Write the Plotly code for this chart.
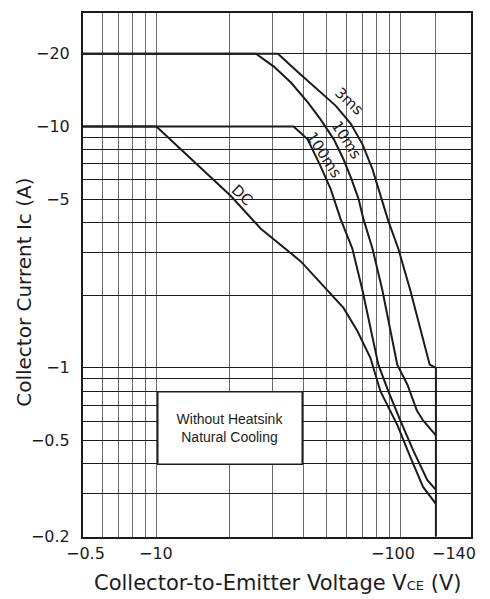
import plotly.graph_objects as go
import math

# ---- data (magnitudes; labels shown negative as in the datasheet) ----
dc_v = [5, 10, 20.2, 26.8, 39.1, 48.5, 58.5, 66.7, 75.4, 82.9, 97.2, 110, 124, 140]
dc_i = [10, 10, 5.15, 3.77, 2.76, 2.18, 1.77, 1.42, 1.10, 0.80, 0.58, 0.426, 0.321, 0.273]

ms100_v = [5, 36.5, 41.7, 47.1, 51.8, 56.9, 63.6, 70.0, 81.3, 89.3, 100, 113, 129, 140]
ms100_i = [10, 10, 8.84, 6.85, 5.51, 4.14, 3.12, 2.09, 1.03, 0.80, 0.605, 0.455, 0.343, 0.312]

ms10_v = [5, 25.6, 30.3, 35.6, 41.7, 47.1, 53.4, 58.5, 63.1, 67.4, 70.6, 76.9, 84.5, 97.2, 107, 117, 124, 140]
ms10_i = [20, 20, 17.7, 15.2, 12.6, 10.7, 8.84, 7.31, 6.05, 5.01, 4.14, 3.12, 2.09, 1.03, 0.851, 0.665, 0.605, 0.525]

ms3_v = [5, 31.5, 38.0, 45.8, 54.3, 62.5, 70.0, 76.9, 83.6, 89.3, 98.1, 110, 132, 140, 140]
ms3_i = [20, 20, 16.8, 14.2, 12.2, 10.3, 8.43, 6.65, 5.01, 4.06, 3.12, 2.09, 1.03, 1.0, 0.2]

curve_labels = ["3ms", "10ms", "100ms", "DC"]
label_v = [61.4, 60.0, 48.6, 22.4]
label_i = [12.7, 8.75, 7.6, 5.20]
label_angle = [43, 58, 57, 43]

x_grid = [6, 7, 8, 9, 10, 20, 30, 40, 50, 60, 70, 80, 90, 100, 140]
x_tick_vals = [5, 10, 100, 140]
x_tick_text = ["\u22120.5", "\u221210", "\u2212100", "\u2212140"]
x_tick_shift = [2, 0, -7, 18]

y_grid = [0.2, 0.3, 0.4, 0.5, 0.6, 0.7, 0.8, 0.9, 1, 2, 3, 4, 5, 6, 7, 8, 9, 10, 20]
y_label_map = {20: "\u221220", 10: "\u221210", 5: "\u22125", 1: "\u22121", 0.5: "\u22120.5", 0.2: "\u22120.2"}
y_tick_text = [y_label_map.get(v, "") for v in y_grid]

INK = "#1c1c1c"
FONT = "DejaVu Sans"

fig = go.Figure()
for v, i in [(dc_v, dc_i), (ms100_v, ms100_i), (ms10_v, ms10_i), (ms3_v, ms3_i)]:
    fig.add_trace(go.Scatter(x=v, y=i, mode="lines",
                             line=dict(color=INK, width=2), showlegend=False,
                             hoverinfo="skip"))

for t, v, i, a in zip(curve_labels, label_v, label_i, label_angle):
    fig.add_annotation(x=math.log10(v), y=math.log10(i), xref="x", yref="y",
                       text=t, textangle=a, showarrow=False,
                       font=dict(family=FONT, size=15, color=INK))

for v, t, s in zip(x_tick_vals, x_tick_text, x_tick_shift):
    fig.add_annotation(x=math.log10(v), y=0, xref="x", yref="paper",
                       text=t, showarrow=False, yanchor="top", xanchor="center",
                       xshift=s, yshift=-5,
                       font=dict(family=FONT, size=16, color=INK))

fig.add_annotation(x=0.5, y=0, xref="paper", yref="paper", yshift=-46,
                   text="Collector-to-Emitter Voltage V<span style='font-size:13px'>CE</span> (V)",
                   showarrow=False, yanchor="middle", xanchor="center",
                   font=dict(family=FONT, size=21, color=INK))
fig.add_annotation(x=0, y=0.466, xref="paper", yref="paper", xshift=-59,
                   text="Collector Current Ic (A)", textangle=-90,
                   showarrow=False, yanchor="middle", xanchor="center",
                   font=dict(family=FONT, size=20, color=INK))
fig.add_annotation(x=0.380, y=0.208, xref="paper", yref="paper",
                   text="Without Heatsink<br>Natural Cooling", showarrow=False,
                   xanchor="center", yanchor="middle", align="center",
                   width=141, height=69, bgcolor="white",
                   bordercolor=INK, borderwidth=1.5, borderpad=1,
                   font=dict(family="Liberation Sans", size=14, color=INK))

# page body adds an 8px offset, so the figure is sized to fit the 490x599 window
fig.update_layout(
    width=482, height=591,
    margin=dict(l=75, r=19, t=3, b=62),
    paper_bgcolor="white", plot_bgcolor="white",
    showlegend=False,
)
fig.update_xaxes(type="log", range=[math.log10(5), math.log10(195)],
                 tickmode="array", tickvals=x_grid, showticklabels=False,
                 showgrid=True, gridcolor="#6a6a6a", gridwidth=1,
                 showline=True, linecolor=INK, linewidth=2, mirror=True,
                 ticks="", zeroline=False)
fig.update_yaxes(type="log", range=[math.log10(0.199), 1.47],
                 tickmode="array", tickvals=y_grid, ticktext=y_tick_text,
                 showgrid=True, gridcolor=INK, gridwidth=1.3,
                 showline=True, linecolor=INK, linewidth=2, mirror=True,
                 ticks="", ticklabelstandoff=8, zeroline=False,
                 tickfont=dict(family=FONT, size=16, color=INK))

fig.write_html("out.html")
